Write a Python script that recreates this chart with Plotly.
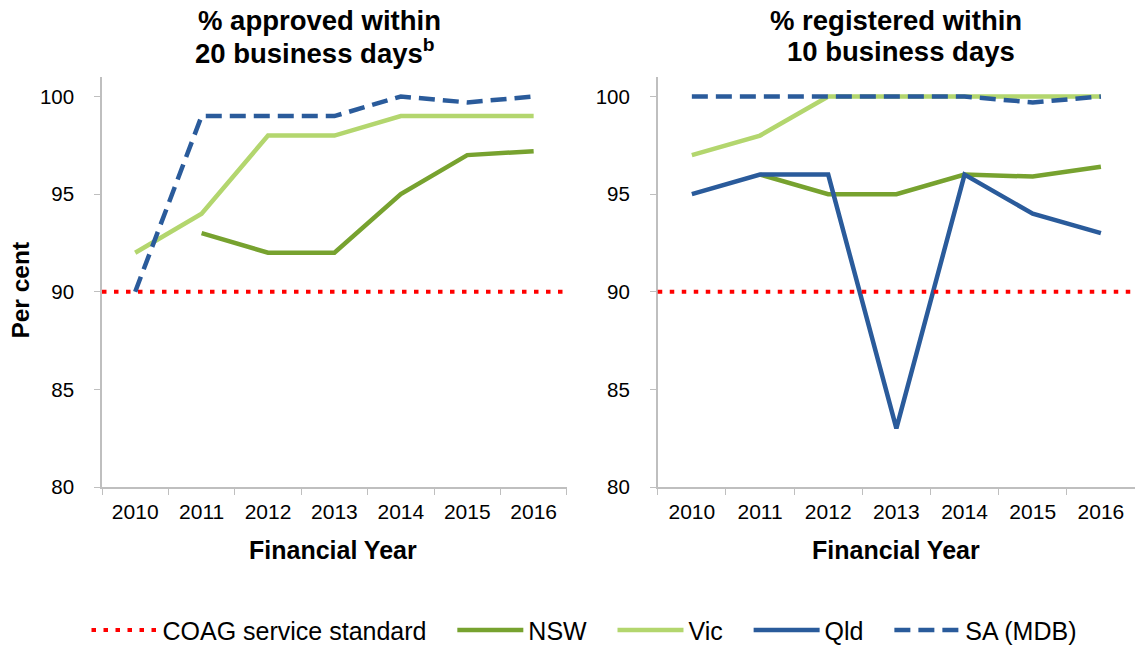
import plotly.graph_objects as go
from plotly.subplots import make_subplots

years = ["2010", "2011", "2012", "2013", "2014", "2015", "2016"]
coag_standard = 90

# % approved within 20 business days
approved_nsw = [None, 93, 92, 92, 95, 97, 97.2]
approved_vic = [92, 94, 98, 98, 99, 99, 99]
approved_sa = [90, 99, 99, 99, 100, 99.7, 100]

# % registered within 10 business days
registered_nsw = [None, 96, 95, 95, 96, 95.9, 96.4]
registered_vic = [97, 98, 100, 100, 100, 100, 100]
registered_qld = [95, 96, 96, 83, 96, 94, 93]
registered_sa = [100, 100, 100, 100, 100, 99.7, 100]

colors = {
    "COAG": "#FF0000",
    "NSW": "#77A22F",
    "Vic": "#B3D66E",
    "Qld": "#2A5B9B",
    "SA": "#2A5B9B",
}
dotted = "4.5px,7.5px"
dashed = "16px,8px"
font_family = "Liberation Sans, Arial, sans-serif"
pad = "\u00a0\u00a0\u00a0"  # spacing between legend entries

fig = make_subplots(rows=1, cols=2)

# legend-only entry for the service standard (the real line is a shape)
fig.add_trace(go.Scatter(x=[None], y=[None], mode="lines", name="COAG service standard" + pad,
                         line=dict(color=colors["COAG"], width=4, dash=dotted),
                         legendrank=1), row=1, col=1)

panels = [
    (1, {"NSW": approved_nsw, "Vic": approved_vic, "SA (MDB)": approved_sa}),
    (2, {"NSW": registered_nsw, "Vic": registered_vic, "Qld": registered_qld, "SA (MDB)": registered_sa}),
]
rank = {"NSW": 2, "Vic": 3, "Qld": 4, "SA (MDB)": 5}
shown = set()
for col, series in panels:
    for name, vals in series.items():
        key = name.split(" ")[0]
        fig.add_trace(go.Scatter(
            x=years, y=vals, mode="lines", name=name + (pad if key != "SA" else ""),
            line=dict(color=colors[key], width=4.5, dash=dashed if key == "SA" else "solid"),
            showlegend=name not in shown, legendrank=rank[name],
            connectgaps=False,
        ), row=1, col=col)
        shown.add(name)
    fig.add_hline(y=coag_standard, line=dict(color=colors["COAG"], width=4, dash=dotted),
                  row=1, col=col)

axis_common = dict(showline=True, linecolor="#BFBFBF", linewidth=1.5, ticks="outside",
                   tickcolor="#BFBFBF", ticklen=6, showgrid=False, zeroline=False)
fig.update_xaxes(type="category", tickson="boundaries", range=[-0.5, 6.5],
                 ticklabelstandoff=5, tickfont=dict(size=21, color="#000000"), **axis_common)
fig.update_yaxes(range=[80, 101], tickvals=[80, 85, 90, 95, 100],
                 ticklabelstandoff=16, tickfont=dict(size=20.5, color="#000000"), **axis_common)
fig.update_layout(xaxis=dict(domain=[0, 0.450]), xaxis2=dict(domain=[0.538, 1.0]))

title_font = dict(family=font_family, size=27.5, color="#000000")
title_lines = [
    (0.211, 1.137, "<b>% approved within</b>"),
    (0.206, 1.063, "<b>20 business days<sup>b</sup></b>"),
    (0.769, 1.137, "<b>% registered within</b>"),
    (0.773, 1.063, "<b>10 business days</b>"),
]
for x, y, text in title_lines:
    fig.add_annotation(x=x, y=y, xref="paper", yref="paper", text=text, showarrow=False,
                       xanchor="center", yanchor="middle", font=title_font)
for x in [0.224, 0.769]:
    fig.add_annotation(x=x, y=-0.154, xref="paper", yref="paper", text="<b>Financial Year</b>",
                       showarrow=False, xanchor="center", yanchor="middle",
                       font=dict(family=font_family, size=25, color="#000000"))
fig.add_annotation(x=-0.079, y=0.48, xref="paper", yref="paper", text="<b>Per cent</b>",
                   textangle=-90, showarrow=False, xanchor="center", yanchor="middle",
                   font=dict(family=font_family, size=24.5, color="#000000"))

fig.update_layout(
    width=1138, height=645,
    margin=dict(l=102, r=3, t=77, b=158),
    paper_bgcolor="#FFFFFF", plot_bgcolor="#FFFFFF",
    font=dict(family=font_family, color="#000000"),
    legend=dict(orientation="h", x=0.4666, y=0.023, xref="paper", yref="container",
                xanchor="center", yanchor="middle",
                font=dict(size=25), itemwidth=66, traceorder="normal"),
)

fig.write_html("out.html", post_script="document.body.style.margin='0';",
               config={"displayModeBar": False})
